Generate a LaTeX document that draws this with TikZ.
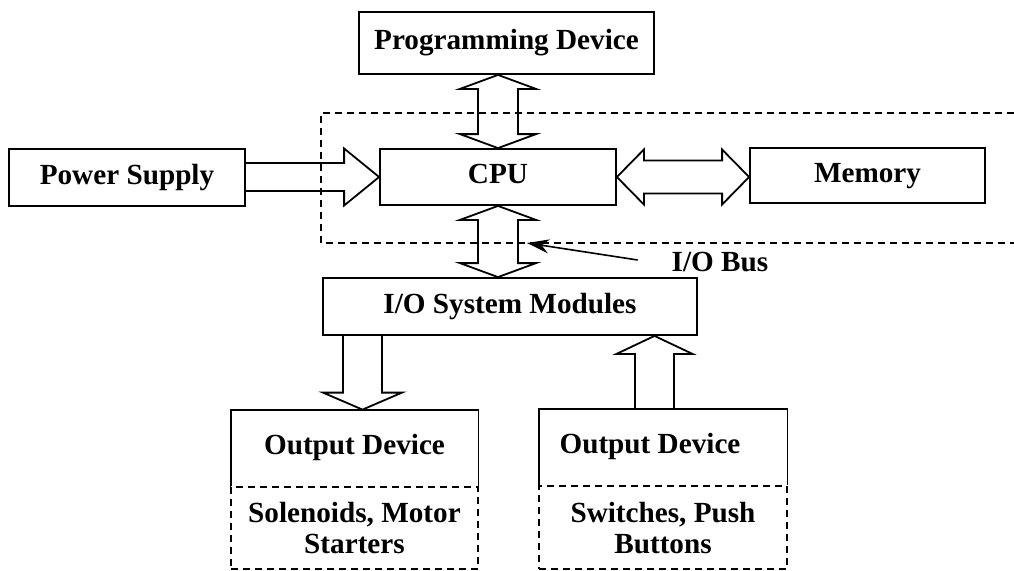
\documentclass[tikz,border=0pt]{standalone}
\usepackage{fontspec}
\setmainfont{Liberation Serif}
\usetikzlibrary{calc,arrows.meta}
\begin{document}
\begin{tikzpicture}[
        x=0.5pt, y=-0.5pt,
        >={Stealth[length=11pt,width=7pt]},
        box/.style={draw, line width=0.9pt, inner sep=0pt, text height=0.66em, text depth=0pt},
        dashbox/.style={draw, line width=0.8pt, dash pattern=on 3.5pt off 2.5pt, inner sep=0pt, align=center},
        fat/.style={draw, line width=0.9pt, line join=miter},
        font=\fontsize{14.6}{15.5}\selectfont\bfseries
    ]
    \useasboundingbox (0,0) rectangle (1014,570);

    % 方框
    \node[box, minimum width=147.5pt, minimum height=31pt] (prog) at (506.5,43) {Programming Device};
    \node[box, minimum width=118pt, minimum height=28.5pt] (power) at (127,177.5) {Power Supply};
    \node[box, minimum width=118pt, minimum height=28pt] (cpu) at (498,177) {CPU};
    \node[box, minimum width=117.5pt, minimum height=27.5pt] (mem) at (867.5,175.5) {Memory};
    \node[box, minimum width=187pt, minimum height=28.5pt] (io) at (510,306.5) {I/O System Modules};

    % 输出设备
    \node[minimum width=123.5pt, minimum height=38pt, inner sep=0pt, text height=0.66em, text depth=0pt] (outL) at (354.5,448) {Output Device};
    \draw[line width=0.9pt] (outL.south west) |- (outL.north east) -- (outL.south east);
    \node[dashbox, minimum width=123.5pt, minimum height=41pt, anchor=north] (actL) at (outL.south) {Solenoids, Motor\\Starters};

    \node[minimum width=124pt, minimum height=38pt, inner sep=0pt, text height=0.66em, text depth=0pt] (outR) at (663,447) {Output Device\kern13pt};
    \draw[line width=0.9pt] (outR.south west) |- (outR.north east) -- (outR.south east);
    \node[dashbox, minimum width=124pt, minimum height=41.5pt, anchor=north] (actR) at (outR.south) {Switches, Push\\Buttons};

    % 虚线区域
    \draw[line width=0.8pt, dash pattern=on 3.5pt off 2.5pt] (1014,113) -- (321,113) -- (321,243) -- (1014,243);

    % Programming Device <-> CPU
    \coordinate (pt) at (cpu.north |- prog.south);
    \draw[fat] (pt) -- ++(38,14) -- ++(-18,0) -- ($(cpu.north)+(20,-14)$) -- ++(18,0) -- (cpu.north)
        -- ++(-38,-14) -- ++(18,0) -- ($(pt)+(-20,14)$) -- ++(-18,0) -- cycle;

    % CPU <-> I/O System Modules
    \coordinate (iot) at (cpu.south |- io.north);
    \draw[fat] (cpu.south) -- ++(38,14) -- ++(-18,0) -- ($(iot)+(20,-14)$) -- ++(18,0) -- (iot)
        -- ++(-38,-14) -- ++(18,0) -- ($(cpu.south)+(-20,14)$) -- ++(-18,0) -- cycle;

    % Power Supply -> CPU
    \coordinate (pin) at (power.east |- cpu.west);
    \draw[fat] ($(pin)+(0,-14)$) -- ($(cpu.west)+(-35,-14)$) -- ++(0,-14.5) -- (cpu.west)
        -- ++(-35,28.5) -- ++(0,-14.5) -- ($(pin)+(0,14)$);

    % CPU <-> Memory
    \coordinate (mw) at (cpu.east -| mem.west);
    \draw[fat] (cpu.east) -- ++(27,-27.5) -- ++(0,11) -- ($(mw)+(-27,-16.5)$) -- ++(0,-11) -- (mw)
        -- ++(-27,27.5) -- ++(0,-11) -- ($(cpu.east)+(27,16.5)$) -- ++(0,11) -- cycle;

    % I/O -> 左输出设备
    \coordinate (dtip) at ($(outL.north)+(8,0)$);
    \coordinate (dbeg) at (dtip |- io.south);
    \draw[fat] ($(dbeg)+(-19.5,0)$) -- ($(dtip)+(-19.5,-17)$) -- ++(-20,0) -- (dtip)
        -- ++(39.5,-17) -- ++(-20,0) -- ($(dbeg)+(19.5,0)$);

    % 右输出设备 -> I/O
    \coordinate (ubeg) at ($(outR.north)+(-8.5,0)$);
    \coordinate (utip) at (ubeg |- io.south);
    \draw[fat] ($(ubeg)+(-19.5,0)$) -- ($(utip)+(-19.5,18)$) -- ++(-18.5,0) -- (utip)
        -- ++(38,18) -- ++(-18.5,0) -- ($(ubeg)+(19.5,0)$);

    % I/O Bus 标注
    \node (iobus) at (720,262) {I/O Bus};
    \coordinate (bustip) at (527,243);
    \draw[->, line width=0.8pt] ($(iobus.west)+(-27,-2)$) -- (bustip);
\end{tikzpicture}
\end{document}
